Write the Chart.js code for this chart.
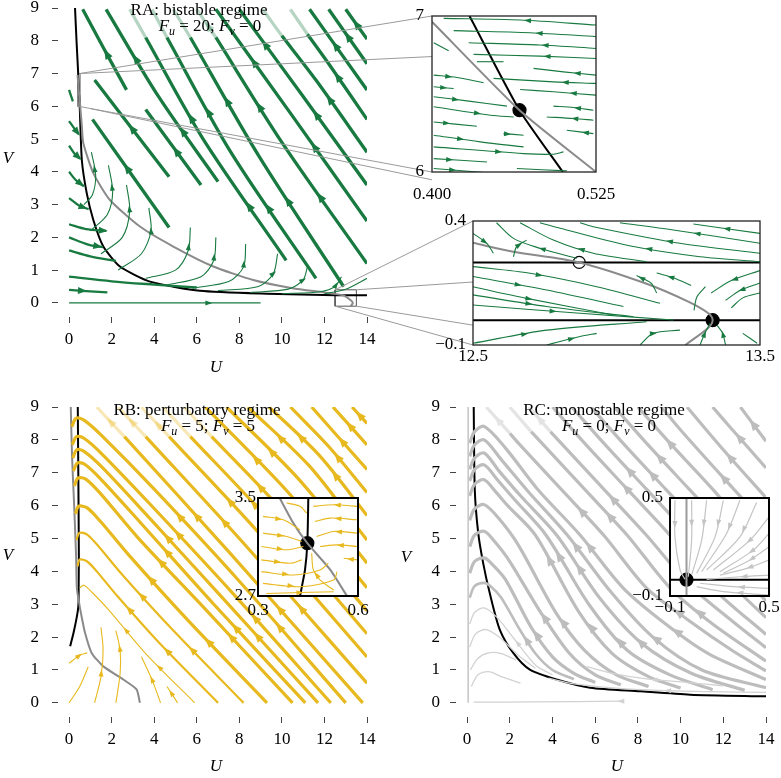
<!DOCTYPE html>
<html lang="en">
<head>
<meta charset="UTF-8">
<title>Phase portraits RA / RB / RC</title>
<script src="https://cdn.jsdelivr.net/npm/chart.js"></script>
<style>
  html, body { margin: 0; padding: 0; background: #fff; }
  #stage { position: relative; width: 781px; height: 778px; overflow: hidden; }
  #stage canvas { position: absolute; }
</style>
</head>
<body>
<div id="stage"></div>
<script>
// ---------- axis ticks ----------
const uTicks = [0, 2, 4, 6, 8, 10, 12, 14];
const vTicks = [0, 1, 2, 3, 4, 5, 6, 7, 8, 9];

// ---------- RA : bistable regime (streamlines, flow order) ----------
const raThick = [
  [[2.7, 6.5], [1.6, 7.8], [0.64, 8.96]],
  [[7.0, 3.7], [4.2, 6.3], [1.74, 8.96]],
  [[10.2, 1.3], [6.3, 5.0], [3.6, 8.1]],
  [[11.6, 0.75], [7.6, 4.6], [4.6, 8.1]],
  [[12.9, 0.5], [8.9, 4.5], [5.7, 8.1]],
  [[14.0, 1.2], [10.0, 4.9], [6.9, 8.1]],
  [[14.0, 2.5], [10.5, 5.7], [6.9, 8.96]],
  [[14.0, 3.6], [11.0, 6.3], [8.0, 8.96]],
  [[14.0, 4.6], [11.6, 6.8], [10.0, 8.15]],
  [[14.0, 5.6], [12.2, 7.3], [11.2, 8.2]],
  [[14.0, 6.5], [11.3, 8.96]],
  [[14.0, 7.3], [12.2, 8.96]],
  [[14.0, 8.05], [13.0, 8.96]],
  [[4.7, 3.85], [1.2, 6.8]],
  [[6.2, 3.6], [3.6, 5.9]],
  [[4.7, 2.3], [1.1, 5.6]]
];
const raThickArrows = [[0.45], [0.3, 0.72], [0.25, 0.65], [0.3, 0.7], [0.35, 0.75], [0.3, 0.7],
  [0.35, 0.75], [0.4, 0.8], [0.45], [0.5], [0.55], [0.5], [0.5], [0.5], [0.45], [0.55]];
const raFaded = [
  [[3.6, 8.1], [2.85, 8.96]],
  [[4.6, 8.1], [3.9, 8.96]],
  [[5.7, 8.1], [4.9, 8.96]],
  [[6.9, 8.1], [6.0, 8.96]],
  [[10.0, 8.15], [9.1, 8.96]],
  [[11.2, 8.2], [10.4, 8.96]]
];
const raFadedArrows = [[], [], [], [0.4], [], []];
const raMid = [
  [[0, 5.55], [0.25, 5.32], [0.45, 5.15]],
  [[0, 4.8], [0.25, 4.56], [0.52, 4.4]],
  [[0, 4.0], [0.3, 3.76], [0.7, 3.56]],
  [[0, 3.2], [0.5, 2.96], [0.92, 2.86]],
  [[0, 2.4], [0.8, 2.25], [1.75, 2.2]],
  [[0, 2.0], [0.9, 1.78], [1.6, 1.7]],
  [[0, 1.6], [1.0, 1.42], [2.2, 1.28]],
  [[0, 0.8], [2.0, 0.66], [4.0, 0.56], [6.0, 0.47]],
  [[0, 0.4], [0.6, 0.37], [1.8, 0.32]],
  [[0, 6.5], [0.1, 6.3], [0.18, 6.15]]
];
const raMidArrows = [[0.85], [0.85], [0.8], [0.75], [0.92], [0.85], [], [], [0.35], []];
const raThin = [
  [[0.7, 3.0], [1.1, 3.3], [1.25, 3.9], [1.05, 4.6]],
  [[1.0, 2.2], [1.8, 2.7], [2.05, 3.4], [1.85, 4.2]],
  [[1.5, 1.5], [2.5, 2.0], [2.85, 2.8], [2.7, 3.6]],
  [[2.3, 1.0], [3.4, 1.5], [3.85, 2.2], [3.75, 2.9]],
  [[3.6, 0.75], [5.0, 1.0], [5.6, 1.6], [5.7, 2.3]],
  [[4.6, 0.55], [6.2, 0.8], [6.8, 1.3], [6.9, 2.0]],
  [[5.8, 0.45], [7.5, 0.65], [8.2, 1.1], [8.3, 1.8]],
  [[7.0, 0.38], [8.9, 0.5], [9.6, 0.9], [9.8, 1.5]],
  [[8.5, 0.32], [10.3, 0.42], [11.0, 0.7], [11.2, 1.1]],
  [[10.0, 0.28], [11.8, 0.34], [12.5, 0.5], [12.8, 0.8]],
  [[12.0, 0.28], [13.0, 0.42], [14.0, 0.75]],
  [[0, 0.0], [6.6, 0.0], [9.0, 0.0]]
];
const raThinArrows = [[0.7], [0.7], [0.7], [0.7], [0.75], [0.75], [0.75], [0.75], [0.8], [0.85], [], [0.73]];
const raBlack = [[0.28, 9.0], [0.35, 8.0], [0.4286, 7.0], [0.4667, 6.396], [0.4997, 6.0], [0.6, 4.36],
  [0.83, 3.35], [1.14, 2.53], [1.61, 1.72], [2.39, 1.11], [3.8, 0.65], [6.15, 0.37], [9.3, 0.28],
  [12.5, 0.235], [14.0, 0.233]];
const raGray = [[0.4, 6.96], [0.4667, 6.396], [0.525, 6.0], [0.6, 5.4], [0.67, 4.87], [1.14, 3.96],
  [1.92, 3.14], [3.33, 2.33], [4.9, 1.72], [6.78, 1.11], [8.65, 0.7], [10.5, 0.45], [12.0, 0.32],
  [12.87, 0.233], [13.25, 0.075], [13.335, 0.0], [13.24, -0.1]];
const raBoxTop = [[0.4, 6], [0.525, 6], [0.525, 7], [0.4, 7], [0.4, 6]];
const raBoxLow = [[12.5, -0.1], [13.5, -0.1], [13.5, 0.4], [12.5, 0.4], [12.5, -0.1]];
// zoom connectors: point in RA -> point in inset
const linkFrom = [[0.5, 7.0], [0.5, 7.0], [0.45, 6.0], [1.0, 5.93], [12.5, 0.4], [13.5, 0.4], [13.5, -0.1], [12.5, -0.1]];
const linkTo = [[0.4, 7.0], [0.4, 6.74], [0.4, 6.0], [0.4, 5.95], [12.5, 0.4], [12.5, 0.154], [12.5, -0.02], [12.5, -0.1]];
const linkInset = ['a1', 'a1', 'a1', 'a1', 'a2', 'a2', 'a2', 'a2'];

// ---------- inset A1 (U 0.400-0.525, V 6-7) ----------
const a1UTicks = [0.4, 0.525], a1ULabels = ['0.400', '0.525'];
const a1VTicks = [6, 7], a1VLabels = ['6', '7'];
const a1Green = [
  [[0.525, 6.942], [0.4672, 6.974], [0.4089, 6.985]],
  [[0.525, 6.868], [0.4748, 6.893], [0.4165, 6.906]],
  [[0.525, 6.792], [0.4824, 6.814], [0.4279, 6.829]],
  [[0.525, 6.728], [0.4824, 6.743], [0.4317, 6.754]],
  [[0.4545, 6.707], [0.4342, 6.707]],
  [[0.525, 6.621], [0.5002, 6.642], [0.4774, 6.664]],
  [[0.525, 6.568], [0.4926, 6.578], [0.4469, 6.600]],
  [[0.525, 6.493], [0.4926, 6.514], [0.4672, 6.529]],
  [[0.523, 6.396], [0.5078, 6.413], [0.4926, 6.422]],
  [[0.523, 6.332], [0.5078, 6.343], [0.4875, 6.353]],
  [[0.523, 6.246], [0.5027, 6.268]],
  [[0.4013, 6.621], [0.419, 6.606], [0.4393, 6.572]],
  [[0.4013, 6.546], [0.4165, 6.535]],
  [[0.4013, 6.482], [0.4266, 6.456], [0.4571, 6.422]],
  [[0.4013, 6.418], [0.4444, 6.364], [0.4622, 6.353]],
  [[0.4013, 6.321], [0.4342, 6.293]],
  [[0.4545, 6.246], [0.4698, 6.236]],
  [[0.4013, 6.236], [0.4368, 6.193], [0.4698, 6.161]],
  [[0.4013, 6.161], [0.4698, 6.118], [0.4926, 6.114], [0.5002, 6.129]],
  [[0.4013, 6.086], [0.4419, 6.064]],
  [[0.4013, 6.022], [0.4495, 5.99]],
  [[0.4647, 6.022], [0.5027, 6.007]],
  [[0.4013, 6.829], [0.4127, 6.777]]
];
const a1Arrows = [[0.45], [0.4], [0.4], [0.4], [], [0.3], [0.3], [0.3], [0.4], [0.4], [0.3],
  [0.3], [0.5], [0.3], [0.55], [0.3], [0.2], [0.3], [0.5], [0.3], [0.3], [], []];
const a1Black = [[0.4286, 7.0], [0.4667, 6.396], [0.4997, 6.0]];
const a1Gray = [[0.4, 6.963], [0.4667, 6.396], [0.525, 6.0]];
const a1Node = [[0.4667, 6.396]];

// ---------- inset A2 (U 12.5-13.5, V -0.1-0.4) ----------
const a2UTicks = [12.5, 13.5], a2ULabels = ['12.5', '13.5'];
const a2VTicks = [-0.1, 0.4], a2VLabels = ['\u22120.1', '0.4'];
const a2Green = [
  [[13.5, 0.350], [13.268, 0.388]],
  [[13.5, 0.310], [13.198, 0.364], [13.012, 0.393]],
  [[13.5, 0.270], [13.221, 0.310], [12.919, 0.377], [12.873, 0.393]],
  [[13.5, 0.236], [13.291, 0.256], [13.059, 0.297], [12.826, 0.364], [12.733, 0.393]],
  [[13.105, 0.236], [12.919, 0.270], [12.78, 0.323], [12.664, 0.393]],
  [[12.861, 0.249], [12.733, 0.290], [12.641, 0.330], [12.582, 0.393]],
  [[12.5, 0.350], [12.548, 0.310], [12.571, 0.270]],
  [[12.641, 0.256], [12.652, 0.297], [12.687, 0.323]],
  [[12.5, 0.216], [12.699, 0.189], [12.931, 0.135], [13.152, 0.068]],
  [[12.5, 0.176], [12.757, 0.122], [13.024, 0.055]],
  [[12.5, 0.135], [12.687, 0.088], [12.989, 0.021]],
  [[12.5, 0.102], [12.757, 0.055], [13.059, 0.014]],
  [[12.5, 0.061], [12.873, 0.028], [13.198, 0.001]],
  [[13.14, 0.11], [13.12, 0.15], [13.07, 0.18]],
  [[13.26, 0.14], [13.2, 0.17], [13.14, 0.19]],
  [[13.5, 0.2], [13.4, 0.16], [13.33, 0.11]],
  [[13.5, 0.15], [13.43, 0.12], [13.38, 0.08]],
  [[13.5, 0.11], [13.44, 0.09], [13.4, 0.05]],
  [[13.31, 0.135], [13.28, 0.094], [13.27, 0.04]],
  [[12.5, -0.093], [12.757, -0.040], [13.105, -0.006]],
  [[12.757, -0.1], [12.873, -0.066], [12.931, -0.053]],
  [[13.082, -0.1], [13.128, -0.053], [13.221, -0.040]],
  [[13.291, -0.1], [13.308, -0.053], [13.326, -0.013]],
  [[13.38, -0.1], [13.37, -0.053], [13.35, -0.02]],
  [[13.49, -0.093], [13.44, -0.053]]
];
const a2Arrows = [[0.5], [0.45], [0.5], [0.5], [0.5], [0.4], [0.5], [0.6], [0.35], [0.3], [0.4], [0.35],
  [0.4], [0.8], [0.6], [0.5], [0.5], [], [], [0.3], [0.5], [0.4], [0.5], [0.5], []];
const a2BlackHi = [[12.5, 0.233], [13.5, 0.233]];
const a2BlackLo = [[12.5, 0.0], [13.5, 0.0]];
const a2Gray = [[12.5, 0.312], [12.64, 0.276], [12.87, 0.233], [13.1, 0.149], [13.25, 0.075],
  [13.32, 0.028], [13.335, 0.0], [13.32, -0.03], [13.24, -0.1]];
const a2Saddle = [[12.87, 0.233]];
const a2Node = [[13.335, 0.0]];

// ---------- RB : perturbatory regime ----------
const rbThick = [
  [[13.0, 0.0], [8.0, 3.7], [4.0, 6.5], [1.5, 8.15], [0.7, 8.6], [0.33, 8.66], [0.13, 8.4]],
  [[12.3, 0.0], [7.6, 3.4], [3.8, 6.05], [1.5, 7.6], [0.7, 8.05], [0.35, 8.1], [0.15, 7.85]],
  [[11.7, 0.0], [7.2, 3.2], [3.6, 5.75], [1.5, 7.2], [0.7, 7.65], [0.37, 7.7], [0.17, 7.45]],
  [[11.1, 0.0], [6.8, 3.0], [3.4, 5.45], [1.5, 6.8], [0.75, 7.25], [0.4, 7.3], [0.2, 7.05]],
  [[10.5, 0.0], [6.4, 2.85], [3.2, 5.05], [1.5, 6.35], [0.8, 6.8], [0.42, 6.84], [0.25, 6.6]],
  [[9.3, 0.0], [5.6, 2.5], [2.8, 4.5], [1.5, 5.5], [0.85, 5.93], [0.45, 5.98], [0.3, 5.75]],
  [[13.8, 0.0], [7.5, 4.6], [2.6, 8.1]],
  [[14, 0.6], [8.0, 5.0], [3.6, 8.1]],
  [[14, 1.4], [8.6, 5.4], [4.7, 8.1]],
  [[14, 2.1], [9.2, 5.7], [5.7, 8.1]],
  [[14, 2.8], [9.8, 6.0], [6.7, 8.1]],
  [[14, 3.5], [10.3, 6.4], [6.4, 9.0]],
  [[14, 4.25], [10.8, 6.8], [7.4, 9.0]],
  [[14, 4.95], [11.3, 7.2], [8.4, 9.0]],
  [[14, 5.7], [11.8, 7.5], [9.4, 9.0]],
  [[14, 6.4], [12.2, 7.8], [10.4, 9.0]],
  [[14, 7.1], [11.4, 9.0]],
  [[14, 7.85], [12.4, 9.0]],
  [[14, 8.5], [13.3, 9.0]]
];
const rbThickArrows = [[0.25, 0.62], [0.3, 0.6], [0.25, 0.62], [0.3, 0.6], [0.28, 0.6], [0.3, 0.6],
  [0.35, 0.7], [0.3, 0.65], [0.35, 0.7], [0.3, 0.65], [0.35, 0.7], [0.3, 0.7], [0.35, 0.7],
  [0.3, 0.75], [0.35, 0.7], [0.4], [0.45], [0.5], [0.5]];
const rbFaded = [
  [[2.6, 8.1], [1.3, 9.0]],
  [[3.6, 8.1], [2.3, 9.0]],
  [[4.7, 8.1], [3.4, 9.0]],
  [[5.7, 8.1], [4.4, 9.0]],
  [[6.7, 8.1], [5.4, 9.0]]
];
const rbFadedArrows = [[0.5], [0.5], [0.4], [], []];
const rbMid = [
  [[8.2, 0.0], [4.9, 2.2], [2.5, 3.9], [1.4, 4.75], [0.85, 5.12], [0.48, 5.17], [0.35, 4.95]],
  [[7.0, 0.0], [4.2, 1.85], [2.2, 3.3], [1.3, 4.0], [0.85, 4.3], [0.5, 4.36], [0.4, 4.15]]
];
const rbMidArrows = [[0.3, 0.6], [0.35, 0.62]];
const rbThin = [
  [[5.9, 0.0], [3.6, 1.5], [1.9, 2.8], [1.1, 3.35], [0.7, 3.58], [0.5, 3.5]],
  [[0.0, 1.2], [0.5, 1.45], [0.85, 1.52]],
  [[1.2, 0.0], [1.5, 0.8], [1.6, 1.6], [1.5, 2.3]],
  [[2.2, 0.0], [2.4, 0.9], [2.4, 1.6], [2.2, 2.2]],
  [[4.3, 0.0], [3.9, 0.7], [3.4, 1.4]],
  [[5.1, 0.0], [4.6, 0.5]],
  [[0.0, 0.0], [0.5, 0.5], [0.9, 1.1]]
];
const rbThinArrows = [[0.3, 0.6], [0.6], [0.4], [0.75], [0.5], [0.6], []];
const rbBlack = [[0.05, 1.72], [0.2, 2.1], [0.36, 2.6], [0.43, 2.9], [0.448, 3.131], [0.451, 3.5],
  [0.46, 4.46], [0.44, 6.48], [0.41, 9.0]];
const rbGray = [[3.33, 0.0], [3.17, 0.41], [2.55, 0.71], [1.61, 1.11], [1.06, 1.52], [0.75, 2.13],
  [0.567, 2.7], [0.448, 3.131], [0.365, 3.5], [0.33, 4.46], [0.24, 6.0], [0.14, 7.5], [0.08, 9.0]];

// ---------- inset B (U 0.3-0.6, V 2.7-3.5) ----------
const bUTicks = [0.3, 0.6], bULabels = ['0.3', '0.6'];
const bVTicks = [2.7, 3.5], bVLabels = ['2.7', '3.5'];
const bYellow = [
  [[0.315, 3.35], [0.376, 3.322], [0.426, 3.24]],
  [[0.315, 3.213], [0.386, 3.186], [0.431, 3.145]],
  [[0.31, 3.104], [0.386, 3.077], [0.436, 3.104]],
  [[0.31, 2.995], [0.396, 2.967], [0.431, 2.995]],
  [[0.31, 2.899], [0.406, 2.872], [0.486, 2.913], [0.511, 2.967]],
  [[0.315, 2.803], [0.426, 2.776], [0.527, 2.831], [0.537, 2.899]],
  [[0.325, 2.721], [0.527, 2.735]],
  [[0.597, 3.432], [0.527, 3.445], [0.466, 3.432]],
  [[0.597, 3.322], [0.517, 3.336], [0.471, 3.309]],
  [[0.597, 3.213], [0.527, 3.227], [0.476, 3.186]],
  [[0.597, 3.104], [0.537, 3.117], [0.486, 3.104]],
  [[0.597, 2.995], [0.557, 3.008]],
  [[0.386, 3.459], [0.426, 3.432], [0.446, 3.377]],
  [[0.527, 2.749], [0.486, 2.831], [0.466, 2.913], [0.461, 3.049]]
];
const bArrows = [[0.4], [0.45], [0.45], [0.4], [0.35], [0.35], [0.5], [0.45], [0.45], [0.45], [0.45], [0.5], [], [0.5]];
const bBlack = [[0.451, 3.5], [0.448, 3.131], [0.441, 2.913], [0.426, 2.699]];
const bGray = [[0.365, 3.5], [0.406, 3.295], [0.448, 3.131], [0.517, 2.913], [0.567, 2.699]];
const bNode = [[0.448, 3.131]];

// ---------- RC : monostable regime ----------
const rcThick = [
  [[14, 7.96], [12.8, 9.0]],
  [[14, 7.15], [12.3, 8.4], [11.5, 9.0]],
  [[14, 6.24], [12.0, 7.7], [10.3, 9.0]],
  [[14, 5.43], [12.0, 6.85], [10.0, 8.3], [9.1, 9.0]],
  [[14, 4.62], [13.4, 5.05], [11.5, 6.5], [9.5, 7.9], [8.0, 9.0]],
  [[14, 3.9], [12.4, 5.1], [10.4, 6.5], [8.4, 7.9], [6.9, 9.0]],
  [[14, 3.1], [13.3, 3.6], [11.3, 5.1], [9.3, 6.5], [7.3, 7.9], [5.8, 9.0]],
  [[14, 2.59], [12.4, 3.6], [10.4, 5.1], [8.4, 6.5], [6.4, 7.9], [4.9, 9.0]],
  [[14, 2.08], [11.5, 3.5], [9.5, 5.1], [7.5, 6.5], [5.5, 7.9], [4.0, 9.0]],
  [[14, 1.68], [12.4, 2.5], [10.4, 3.6], [8.4, 5.1], [6.4, 6.5], [4.4, 7.9], [3.9, 8.25]],
  [[14, 1.27], [11.5, 2.4], [9.5, 3.5], [7.5, 5.1], [5.5, 6.5], [3.5, 7.9], [3.0, 8.25]],
  [[14, 0.97], [12.4, 1.6], [10.4, 2.5], [8.4, 3.5], [6.4, 5.1], [4.4, 6.5], [2.4, 7.9], [2.0, 8.2]],
  [[14, 0.71], [11.3, 1.5], [9.3, 2.4], [7.3, 3.5], [5.3, 5.1], [3.3, 6.5], [1.8, 7.75], [0.8, 8.41], [0.35, 8.25], [0.12, 7.9]],
  [[14, 0.46], [11.0, 1.0], [8.7, 2.0], [6.7, 3.4], [4.7, 5.1], [2.9, 6.4], [1.6, 7.4], [0.8, 8.0], [0.35, 7.85], [0.12, 7.5]],
  [[13, 0.38], [10.5, 0.9], [8.2, 1.8], [6.2, 3.2], [4.2, 5.1], [2.5, 6.3], [1.5, 7.05], [0.8, 7.6], [0.35, 7.45], [0.12, 7.1]],
  [[11.5, 0.4], [9.5, 0.85], [7.5, 1.6], [5.7, 3.0], [3.7, 5.1], [2.2, 6.2], [1.4, 6.8], [0.8, 7.24], [0.35, 7.1], [0.12, 6.75]],
  [[10, 0.45], [8.5, 0.8], [6.8, 1.5], [5.2, 2.8], [3.2, 5.1], [1.9, 6.0], [1.3, 6.45], [0.8, 6.79], [0.35, 6.65], [0.12, 6.3]],
  [[8.5, 0.5], [7, 0.85], [5.5, 1.6], [4.2, 2.7], [2.4, 4.8], [1.5, 5.6], [0.8, 6.03], [0.35, 5.9], [0.12, 5.55]],
  [[7.2, 0.55], [6, 0.85], [4.8, 1.5], [3.4, 2.8], [2.0, 4.3], [1.3, 4.9], [0.8, 5.22], [0.35, 5.1], [0.12, 4.75]],
  [[6, 0.62], [5, 0.9], [4, 1.4], [3.0, 2.3], [1.8, 3.75], [1.2, 4.2], [0.8, 4.41], [0.35, 4.3], [0.12, 3.95]]
];
const rcThickArrows = [[0.5], [0.5], [0.45], [0.4], [0.35, 0.75], [0.3, 0.7], [0.3, 0.65], [0.3, 0.7],
  [0.25, 0.65], [0.3, 0.7], [0.25, 0.65], [0.3, 0.7], [0.25, 0.55], [0.3, 0.6], [0.3, 0.55],
  [0.3, 0.6], [0.35, 0.6], [0.4], [0.45], [0.4]];
const rcFaded = [
  [[3.9, 8.25], [2.9, 9.0]],
  [[3.0, 8.25], [2.0, 9.0]],
  [[2.0, 8.2], [0.9, 9.0]]
];
const rcFadedArrows = [[0.5], [], [0.5]];
const rcMid = [
  [[5, 0.72], [4, 1.0], [3.2, 1.5], [2.4, 2.3], [1.6, 3.2], [1.1, 3.55], [0.8, 3.65], [0.35, 3.55], [0.12, 3.2]]
];
const rcMidArrows = [[0.4]];
const rcThin = [
  [[4.0, 0.85], [3.2, 1.15], [2.2, 1.95], [1.4, 2.6], [0.8, 2.89], [0.35, 2.75], [0.12, 2.4]],
  [[3.2, 1.05], [2.4, 1.45], [1.5, 2.0], [0.9, 2.23], [0.4, 2.1], [0.12, 1.7]],
  [[2.3, 1.3], [1.6, 1.5], [1.0, 1.52], [0.5, 1.35], [0.15, 1.0]],
  [[7.2, 0.05], [3.0, 0.03], [0.3, 0.02]],
  [[2.5, 0.6], [1.6, 0.8], [1.0, 0.95], [0.5, 0.85], [0.2, 0.5]],
  [[14, 0.32], [11.5, 0.34], [9, 0.38], [7, 0.45], [5, 0.58], [3.8, 0.75]],
  [[12, 0.52], [10.3, 0.62], [8.5, 0.72], [6.8, 0.9], [5.6, 1.1]]
];
const rcThinArrows = [[0.4], [], [], [0.0], [], [0.45], [0.5]];
const rcBlack = [[0.31, 9.0], [0.36, 6.48], [0.52, 5.17], [0.75, 4.26], [1.06, 3.34], [1.53, 2.23],
  [2.16, 1.52], [2.94, 1.01], [4.19, 0.71], [5.76, 0.46], [8.1, 0.35], [10.45, 0.25], [14, 0.2]];
const rcAxisNull = [[0.05, 0], [0.05, 9]];

// ---------- inset C (U -0.1-0.5, V -0.1-0.5) ----------
const cTicks = [-0.1, 0.5], cLabels = ['\u22120.1', '0.5'];
const cLines = [
  [[-0.07, 0.486], [-0.07, 0.262], [-0.039, 0.059], [-0.009, 0.002]],
  [[0.031, 0.486], [0.031, 0.242], [0.011, 0.018]],
  [[0.122, 0.486], [0.092, 0.242], [0.031, 0.028]],
  [[0.223, 0.486], [0.173, 0.262], [0.062, 0.039]],
  [[0.324, 0.486], [0.243, 0.283], [0.092, 0.049]],
  [[0.425, 0.472], [0.324, 0.262], [0.122, 0.059]],
  [[0.5, 0.384], [0.385, 0.242], [0.163, 0.059]],
  [[0.5, 0.283], [0.405, 0.181], [0.203, 0.049]],
  [[0.5, 0.201], [0.385, 0.12], [0.223, 0.039]],
  [[0.5, 0.12], [0.365, 0.069], [0.203, 0.028]],
  [[0.5, 0.028], [0.324, 0.018], [0.122, 0.002]],
  [[0.5, -0.053], [0.284, -0.043], [0.082, -0.022]],
  [[0.5, -0.094], [0.223, -0.073], [0.062, -0.043]]
];
const cArrows = [[0.3], [0.3], [0.3], [0.3], [0.35], [0.35], [0.4], [0.4], [0.4], [0.4], [0.4], [0.4], [0.4]];
const cGray = [[0, -0.1], [0, 0.5]];
const cBlack = [[-0.1, 0], [0.5, 0]];
const cNode = [[0, 0]];

// ---------- styling ----------
const SERIF = '"Liberation Serif", "Times New Roman", serif';
Chart.defaults.font.family = SERIF;
Chart.defaults.color = '#000';

const GREEN = '#187a40', GREEN_F = 'rgba(24,122,64,0.32)';
const YELLOW = '#e8b91e', YELLOW_F = 'rgba(232,185,30,0.32)';
const GREY = '#bdbdbd', GREY_F = '#e4e4e4', GREY_T = '#d2d2d2';

const stage = document.getElementById('stage');
function addCanvas(left, top, w, h, z) {
  const c = document.createElement('canvas');
  c.width = w; c.height = h;
  c.style.cssText = 'left:' + left + 'px;top:' + top + 'px;width:' + w + 'px;height:' + h + 'px;z-index:' + z;
  c.dataset.left = left; c.dataset.top = top;
  stage.appendChild(c);
  return c;
}

// arrow heads along a dataset's polyline, at fractions of its pixel length
const arrowPlugin = {
  id: 'arrowHeads',
  afterDatasetsDraw(chart) {
    const { ctx, chartArea: a } = chart;
    ctx.save();
    ctx.beginPath();
    ctx.rect(a.left, a.top, a.right - a.left, a.bottom - a.top);
    ctx.clip();
    chart.data.datasets.forEach((ds, i) => {
      if (!ds.arrows || !ds.arrows.length) return;
      const pts = chart.getDatasetMeta(i).data.map(p => [p.x, p.y]);
      if (pts.length < 2) return;
      const seg = [];
      let total = 0;
      for (let k = 1; k < pts.length; k++) {
        const d = Math.hypot(pts[k][0] - pts[k - 1][0], pts[k][1] - pts[k - 1][1]);
        seg.push(d); total += d;
      }
      ds.arrows.forEach(t => {
        let s = t * total, k = 0;
        while (k < seg.length - 1 && s > seg[k]) { s -= seg[k]; k++; }
        const [x0, y0] = pts[k], [x1, y1] = pts[k + 1];
        const f = seg[k] ? Math.min(1, s / seg[k]) : 0;
        const x = x0 + (x1 - x0) * f, y = y0 + (y1 - y0) * f;
        const L = ds.arrowLen, W = ds.arrowWid / 2;
        ctx.save();
        ctx.translate(x, y);
        ctx.rotate(Math.atan2(y1 - y0, x1 - x0));
        ctx.beginPath();
        ctx.moveTo(L / 2, 0); ctx.lineTo(-L / 2, W); ctx.lineTo(-L / 2, -W);
        ctx.closePath();
        ctx.fillStyle = ds.borderColor;
        ctx.fill();
        ctx.restore();
      });
    });
    ctx.restore();
  }
};

function drawForcing(ctx, cx, y, fu, fv) {
  const parts = [
    ['F', 'italic 17px ' + SERIF, 0], ['u', 'italic 12px ' + SERIF, 4], [' = ' + fu + '; ', '17px ' + SERIF, 0],
    ['F', 'italic 17px ' + SERIF, 0], ['v', 'italic 12px ' + SERIF, 4], [' = ' + fv, '17px ' + SERIF, 0]
  ];
  let w = 0;
  parts.forEach(p => { ctx.font = p[1]; w += ctx.measureText(p[0]).width; });
  let x = cx - w / 2;
  ctx.textAlign = 'left';
  parts.forEach(p => { ctx.font = p[1]; ctx.fillText(p[0], x, y + p[2]); x += ctx.measureText(p[0]).width; });
}

function textPlugin(items) {
  return {
    id: 'texts',
    afterDraw(chart) {
      const ctx = chart.ctx;
      ctx.save();
      ctx.fillStyle = '#000';
      ctx.textBaseline = 'alphabetic';
      items.forEach(it => {
        if (it.forcing) { drawForcing(ctx, it.x, it.y, it.forcing[0], it.forcing[1]); return; }
        ctx.font = it.font; ctx.textAlign = 'center';
        ctx.fillText(it.text, it.x, it.y);
      });
      ctx.restore();
    }
  };
}

function framePlugin(width, color) {
  return {
    id: 'frame',
    beforeDatasetsDraw(chart) {
      const a = chart.chartArea, ctx = chart.ctx;
      ctx.save(); ctx.fillStyle = '#fff';
      ctx.fillRect(a.left, a.top, a.right - a.left, a.bottom - a.top);
      ctx.restore();
    },
    afterDraw(chart) {
      const a = chart.chartArea, ctx = chart.ctx;
      ctx.save(); ctx.strokeStyle = color; ctx.lineWidth = width;
      ctx.strokeRect(a.left, a.top, a.right - a.left, a.bottom - a.top);
      ctx.restore();
    }
  };
}

function lines(list, color, width, arrows, aLen, aWid, tension) {
  return list.map((p, i) => ({
    data: p.map(([x, y]) => ({ x, y })),
    showLine: true, borderColor: color, borderWidth: width,
    pointRadius: 0, tension: tension === undefined ? 0.3 : tension,
    borderCapStyle: 'butt', borderJoinStyle: 'round',
    arrows: arrows ? (arrows[i] || []) : [], arrowLen: aLen, arrowWid: aWid
  }));
}
function dots(list, fill, r) {
  return [{
    data: list.map(([x, y]) => ({ x, y })), showLine: false,
    pointRadius: r, pointBackgroundColor: fill, pointBorderColor: '#000', pointBorderWidth: 1.2
  }];
}

function mainScales(yAxisW, xAxisH, yPad) {
  const font = { family: SERIF, size: 17 };
  const grid = { drawOnChartArea: false, drawTicks: true, tickLength: 6, color: '#444', lineWidth: 1 };
  return {
    x: {
      type: 'linear', min: -0.52, max: 14,
      afterBuildTicks: s => { s.ticks = uTicks.map(v => ({ value: v })); },
      afterFit: s => { s.height = xAxisH; s.paddingLeft = 0; s.paddingRight = 0; },
      ticks: { font, color: '#000', padding: 6, maxRotation: 0, autoSkip: false },
      grid, border: { display: false }
    },
    y: {
      type: 'linear', min: -0.43, max: 9,
      afterBuildTicks: s => { s.ticks = vTicks.map(v => ({ value: v })); },
      afterFit: s => { s.width = yAxisW; s.paddingTop = 0; s.paddingBottom = 0; },
      ticks: { font, color: '#000', padding: yPad, autoSkip: false },
      grid, border: { display: false }
    }
  };
}

function insetScales(xt, xl, yt, yl, xAxisH, yAxisW, xPad, yPad) {
  const font = { family: SERIF, size: 17 };
  const grid = { display: false, drawTicks: false };
  return {
    x: {
      type: 'linear', min: xt[0], max: xt[1],
      afterBuildTicks: s => { s.ticks = xt.map(v => ({ value: v })); },
      afterFit: s => { s.height = xAxisH; s.paddingLeft = 0; s.paddingRight = 0; },
      ticks: { font, color: '#000', padding: xPad, maxRotation: 0, autoSkip: false, callback: (v, i) => xl[i] },
      grid, border: { display: false }
    },
    y: {
      type: 'linear', min: yt[0], max: yt[1],
      afterBuildTicks: s => { s.ticks = yt.map(v => ({ value: v })); },
      afterFit: s => { s.width = yAxisW; s.paddingTop = 0; s.paddingBottom = 0; },
      ticks: { font, color: '#000', padding: yPad, autoSkip: false, callback: (v, i) => yl[i] },
      grid, border: { display: false }
    }
  };
}

function panel(canvas, datasets, scales, pad, extras) {
  return new Chart(canvas, {
    type: 'scatter',
    data: { datasets },
    options: {
      responsive: false, animation: false, devicePixelRatio: 1, events: [],
      layout: { padding: pad },
      plugins: { legend: { display: false }, tooltip: { enabled: false } },
      scales
    },
    plugins: [arrowPlugin].concat(extras || [])
  });
}

// ---------- RA ----------
const raCanvas = addCanvas(0, 0, 390, 385, 0);
const raChart = panel(raCanvas, [].concat(
  lines(raFaded, GREEN_F, 3.2, raFadedArrows, 10, 8),
  lines(raThin, GREEN, 1.1, raThinArrows, 7, 5),
  lines(raMid, GREEN, 2.3, raMidArrows, 9, 7),
  lines(raThick, GREEN, 3.3, raThickArrows, 10, 8),
  lines([raGray], '#8a8a8a', 2, null, 0, 0, 0.2),
  lines([raBlack], '#000', 2, null, 0, 0, 0.2),
  lines([raBoxTop], '#888', 1, null, 0, 0, 0),
  lines([raBoxLow], '#555', 1, null, 0, 0, 0)
), mainScales(58, 68, 13), { left: 0, top: 8, right: 23, bottom: 0 }, [textPlugin([
  { text: 'RA: bistable regime', x: 199, y: 15, font: '17px ' + SERIF },
  { forcing: ['20', '0'], x: 210, y: 31 },
  { text: 'U', x: 216, y: 372, font: 'italic 17px ' + SERIF },
  { text: 'V', x: 8, y: 163, font: 'italic 17px ' + SERIF }
])]);

// ---------- inset A1 ----------
const a1Canvas = addCanvas(395, 0, 230, 210, 2);
const a1Chart = panel(a1Canvas, [].concat(
  lines(a1Green, GREEN, 1.1, a1Arrows, 7, 5, 0.3),
  lines([a1Gray], '#8a8a8a', 2, null, 0, 0, 0.2),
  lines([a1Black], '#000', 2, null, 0, 0, 0.2),
  dots(a1Node, '#000', 6.5)
), insetScales(a1UTicks, a1ULabels, a1VTicks, a1VLabels, 38, 37, 12, 8),
  { left: 0, top: 16, right: 29, bottom: 0 }, [framePlugin(1.3, '#222')]);

// ---------- inset A2 ----------
const a2Canvas = addCanvas(425, 200, 356, 175, 2);
const a2Chart = panel(a2Canvas, [].concat(
  lines(a2Green, GREEN, 1.1, a2Arrows, 7, 5, 0.3),
  lines([a2Gray], '#8a8a8a', 2, null, 0, 0, 0.3),
  lines([a2BlackHi, a2BlackLo], '#000', 2, null, 0, 0, 0),
  dots(a2Saddle, '#fff', 6),
  dots(a2Node, '#000', 6.5)
), insetScales(a2UTicks, a2ULabels, a2VTicks, a2VLabels, 30, 48, 1, 7),
  { left: 0, top: 21, right: 21, bottom: 0 }, [framePlugin(1.3, '#222')]);

// ---------- RB ----------
const rbCanvas = addCanvas(0, 390, 390, 388, 0);
panel(rbCanvas, [].concat(
  lines(rbFaded, YELLOW_F, 3.2, rbFadedArrows, 10, 8),
  lines(rbThin, YELLOW, 1.1, rbThinArrows, 7, 5),
  lines(rbMid, YELLOW, 2.2, rbMidArrows, 9, 7),
  lines(rbThick, YELLOW, 3.2, rbThickArrows, 10, 8),
  lines([rbGray], '#8a8a8a', 2, null, 0, 0, 0.2),
  lines([rbBlack], '#000', 2, null, 0, 0, 0.2)
), mainScales(58, 61, 13), { left: 0, top: 17, right: 23, bottom: 0 }, [textPlugin([
  { text: 'RB: perturbatory regime', x: 197, y: 25, font: '17px ' + SERIF },
  { forcing: ['5', '5'], x: 208, y: 41 },
  { text: 'U', x: 216, y: 381, font: 'italic 17px ' + SERIF },
  { text: 'V', x: 8, y: 170, font: 'italic 17px ' + SERIF }
])]);

// ---------- inset B ----------
const bCanvas = addCanvas(215, 480, 170, 150, 2);
panel(bCanvas, [].concat(
  lines(bYellow, YELLOW, 1.1, bArrows, 7, 5, 0.3),
  lines([bGray], '#8a8a8a', 2, null, 0, 0, 0.2),
  lines([bBlack], '#000', 2, null, 0, 0, 0.2),
  dots(bNode, '#000', 6.5)
), insetScales(bUTicks, bULabels, bVTicks, bVLabels, 34, 43, 4, 2),
  { left: 0, top: 18, right: 27, bottom: 0 }, [framePlugin(2, '#000')]);

// ---------- RC ----------
const rcCanvas = addCanvas(390, 390, 391, 388, 0);
panel(rcCanvas, [].concat(
  lines([rcAxisNull], '#c8c8c8', 1.6, null, 0, 0, 0),
  lines(rcFaded, GREY_F, 3.2, rcFadedArrows, 10, 8),
  lines(rcThin, GREY_T, 1.3, rcThinArrows, 7, 5),
  lines(rcMid, GREY, 2.6, rcMidArrows, 10, 8),
  lines(rcThick, GREY, 3.2, rcThickArrows, 11, 9),
  lines([rcBlack], '#000', 2, null, 0, 0, 0.25)
), mainScales(66, 61, 10), { left: 0, top: 17, right: 15, bottom: 0 }, [textPlugin([
  { text: 'RC: monostable regime', x: 214, y: 25, font: '17px ' + SERIF },
  { forcing: ['0', '0'], x: 219, y: 41 },
  { text: 'U', x: 227, y: 381, font: 'italic 17px ' + SERIF },
  { text: 'V', x: 16, y: 172, font: 'italic 17px ' + SERIF }
])]);

// ---------- inset C ----------
const cCanvas = addCanvas(620, 480, 161, 150, 2);
panel(cCanvas, [].concat(
  lines(cLines, '#c4c4c4', 1.2, cArrows, 7, 5, 0.3),
  lines([cGray], '#9a9a9a', 2, null, 0, 0, 0),
  lines([cBlack], '#000', 2, null, 0, 0, 0),
  dots(cNode, '#000', 6.5)
), insetScales(cTicks, cLabels, cTicks, cLabels, 34, 50, 1, 7),
  { left: 0, top: 18, right: 12, bottom: 0 }, [framePlugin(2, '#000')]);

// ---------- zoom connectors between RA and its insets ----------
(function drawLinks() {
  const c = addCanvas(0, 0, 781, 390, 1);
  const ctx = c.getContext('2d');
  const insets = { a1: [a1Chart, a1Canvas], a2: [a2Chart, a2Canvas] };
  const px = (chart, cv, p) => [
    +cv.dataset.left + chart.scales.x.getPixelForValue(p[0]),
    +cv.dataset.top + chart.scales.y.getPixelForValue(p[1])
  ];
  ctx.strokeStyle = '#9a9a9a';
  ctx.lineWidth = 1;
  linkFrom.forEach((p, i) => {
    const [ch, cv] = insets[linkInset[i]];
    const a = px(raChart, raCanvas, p), b = px(ch, cv, linkTo[i]);
    ctx.beginPath(); ctx.moveTo(a[0], a[1]); ctx.lineTo(b[0], b[1]); ctx.stroke();
  });
})();
</script>
</body>
</html>
